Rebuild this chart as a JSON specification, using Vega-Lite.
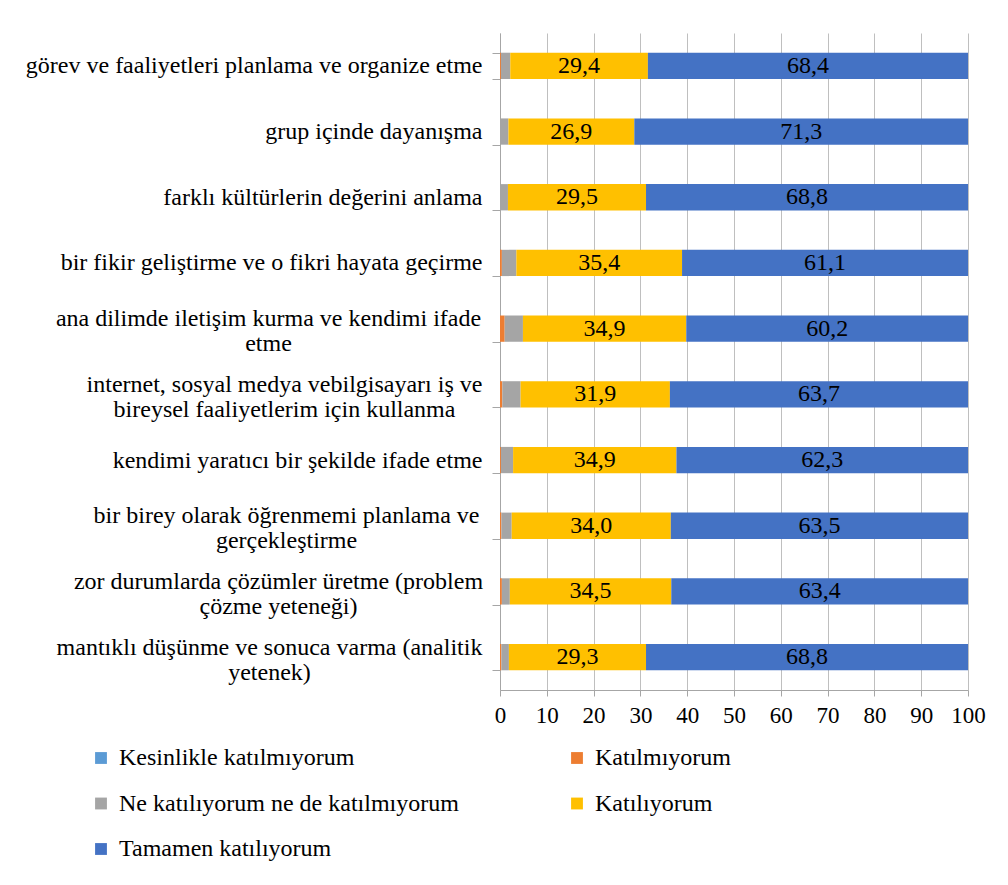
{
  "$schema": "https://vega.github.io/schema/vega-lite/v6.json",
  "width": 468,
  "height": 657,
  "autosize": "none",
  "padding": {"left": 500, "top": 33, "right": 40, "bottom": 195},
  "background": "white",
  "config": {
    "font": "Liberation Serif",
    "view": {"stroke": null},
    "locale": {"number": {"decimal": ",", "thousands": ".", "grouping": [3], "currency": ["", ""]}}
  },
  "data": {
    "values": [
      {"item": "görev ve faaliyetleri planlama ve organize etme", "response": "Kesinlikle katılmıyorum", "level": 1, "value": 0.0},
      {"item": "görev ve faaliyetleri planlama ve organize etme", "response": "Katılmıyorum", "level": 2, "value": 0.2},
      {"item": "görev ve faaliyetleri planlama ve organize etme", "response": "Ne katılıyorum ne de katılmıyorum", "level": 3, "value": 2.0},
      {"item": "görev ve faaliyetleri planlama ve organize etme", "response": "Katılıyorum", "level": 4, "value": 29.4},
      {"item": "görev ve faaliyetleri planlama ve organize etme", "response": "Tamamen katılıyorum", "level": 5, "value": 68.4},
      {"item": "grup içinde dayanışma", "response": "Kesinlikle katılmıyorum", "level": 1, "value": 0.0},
      {"item": "grup içinde dayanışma", "response": "Katılmıyorum", "level": 2, "value": 0.0},
      {"item": "grup içinde dayanışma", "response": "Ne katılıyorum ne de katılmıyorum", "level": 3, "value": 1.8},
      {"item": "grup içinde dayanışma", "response": "Katılıyorum", "level": 4, "value": 26.9},
      {"item": "grup içinde dayanışma", "response": "Tamamen katılıyorum", "level": 5, "value": 71.3},
      {"item": "farklı kültürlerin değerini anlama", "response": "Kesinlikle katılmıyorum", "level": 1, "value": 0.0},
      {"item": "farklı kültürlerin değerini anlama", "response": "Katılmıyorum", "level": 2, "value": 0.0},
      {"item": "farklı kültürlerin değerini anlama", "response": "Ne katılıyorum ne de katılmıyorum", "level": 3, "value": 1.7},
      {"item": "farklı kültürlerin değerini anlama", "response": "Katılıyorum", "level": 4, "value": 29.5},
      {"item": "farklı kültürlerin değerini anlama", "response": "Tamamen katılıyorum", "level": 5, "value": 68.8},
      {"item": "bir fikir geliştirme ve o fikri hayata geçirme", "response": "Kesinlikle katılmıyorum", "level": 1, "value": 0.0},
      {"item": "bir fikir geliştirme ve o fikri hayata geçirme", "response": "Katılmıyorum", "level": 2, "value": 0.4},
      {"item": "bir fikir geliştirme ve o fikri hayata geçirme", "response": "Ne katılıyorum ne de katılmıyorum", "level": 3, "value": 3.1},
      {"item": "bir fikir geliştirme ve o fikri hayata geçirme", "response": "Katılıyorum", "level": 4, "value": 35.4},
      {"item": "bir fikir geliştirme ve o fikri hayata geçirme", "response": "Tamamen katılıyorum", "level": 5, "value": 61.1},
      {"item": "ana dilimde iletişim kurma ve kendimi ifade etme", "response": "Kesinlikle katılmıyorum", "level": 1, "value": 0.0},
      {"item": "ana dilimde iletişim kurma ve kendimi ifade etme", "response": "Katılmıyorum", "level": 2, "value": 1.0},
      {"item": "ana dilimde iletişim kurma ve kendimi ifade etme", "response": "Ne katılıyorum ne de katılmıyorum", "level": 3, "value": 3.9},
      {"item": "ana dilimde iletişim kurma ve kendimi ifade etme", "response": "Katılıyorum", "level": 4, "value": 34.9},
      {"item": "ana dilimde iletişim kurma ve kendimi ifade etme", "response": "Tamamen katılıyorum", "level": 5, "value": 60.2},
      {"item": "internet, sosyal medya vebilgisayarı iş ve bireysel faaliyetlerim için kullanma", "response": "Kesinlikle katılmıyorum", "level": 1, "value": 0.0},
      {"item": "internet, sosyal medya vebilgisayarı iş ve bireysel faaliyetlerim için kullanma", "response": "Katılmıyorum", "level": 2, "value": 0.5},
      {"item": "internet, sosyal medya vebilgisayarı iş ve bireysel faaliyetlerim için kullanma", "response": "Ne katılıyorum ne de katılmıyorum", "level": 3, "value": 3.9},
      {"item": "internet, sosyal medya vebilgisayarı iş ve bireysel faaliyetlerim için kullanma", "response": "Katılıyorum", "level": 4, "value": 31.9},
      {"item": "internet, sosyal medya vebilgisayarı iş ve bireysel faaliyetlerim için kullanma", "response": "Tamamen katılıyorum", "level": 5, "value": 63.7},
      {"item": "kendimi yaratıcı bir şekilde ifade etme", "response": "Kesinlikle katılmıyorum", "level": 1, "value": 0.0},
      {"item": "kendimi yaratıcı bir şekilde ifade etme", "response": "Katılmıyorum", "level": 2, "value": 0.2},
      {"item": "kendimi yaratıcı bir şekilde ifade etme", "response": "Ne katılıyorum ne de katılmıyorum", "level": 3, "value": 2.6},
      {"item": "kendimi yaratıcı bir şekilde ifade etme", "response": "Katılıyorum", "level": 4, "value": 34.9},
      {"item": "kendimi yaratıcı bir şekilde ifade etme", "response": "Tamamen katılıyorum", "level": 5, "value": 62.3},
      {"item": "bir birey olarak öğrenmemi planlama ve gerçekleştirme", "response": "Kesinlikle katılmıyorum", "level": 1, "value": 0.0},
      {"item": "bir birey olarak öğrenmemi planlama ve gerçekleştirme", "response": "Katılmıyorum", "level": 2, "value": 0.3},
      {"item": "bir birey olarak öğrenmemi planlama ve gerçekleştirme", "response": "Ne katılıyorum ne de katılmıyorum", "level": 3, "value": 2.2},
      {"item": "bir birey olarak öğrenmemi planlama ve gerçekleştirme", "response": "Katılıyorum", "level": 4, "value": 34.0},
      {"item": "bir birey olarak öğrenmemi planlama ve gerçekleştirme", "response": "Tamamen katılıyorum", "level": 5, "value": 63.5},
      {"item": "zor durumlarda çözümler üretme (problem çözme yeteneği)", "response": "Kesinlikle katılmıyorum", "level": 1, "value": 0.0},
      {"item": "zor durumlarda çözümler üretme (problem çözme yeteneği)", "response": "Katılmıyorum", "level": 2, "value": 0.4},
      {"item": "zor durumlarda çözümler üretme (problem çözme yeteneği)", "response": "Ne katılıyorum ne de katılmıyorum", "level": 3, "value": 1.7},
      {"item": "zor durumlarda çözümler üretme (problem çözme yeteneği)", "response": "Katılıyorum", "level": 4, "value": 34.5},
      {"item": "zor durumlarda çözümler üretme (problem çözme yeteneği)", "response": "Tamamen katılıyorum", "level": 5, "value": 63.4},
      {"item": "mantıklı düşünme ve sonuca varma (analitik yetenek)", "response": "Kesinlikle katılmıyorum", "level": 1, "value": 0.0},
      {"item": "mantıklı düşünme ve sonuca varma (analitik yetenek)", "response": "Katılmıyorum", "level": 2, "value": 0.3},
      {"item": "mantıklı düşünme ve sonuca varma (analitik yetenek)", "response": "Ne katılıyorum ne de katılmıyorum", "level": 3, "value": 1.6},
      {"item": "mantıklı düşünme ve sonuca varma (analitik yetenek)", "response": "Katılıyorum", "level": 4, "value": 29.3},
      {"item": "mantıklı düşünme ve sonuca varma (analitik yetenek)", "response": "Tamamen katılıyorum", "level": 5, "value": 68.8}
    ]
  },
  "transform": [
    {"stack": "value", "groupby": ["item"], "sort": [{"field": "level", "order": "ascending"}], "as": ["x0", "x1"]}
  ],
  "encoding": {
    "y": {
      "field": "item",
      "type": "nominal",
      "sort": null,
      "title": null,
      "scale": {"paddingInner": 0.6, "paddingOuter": 0.3},
      "axis": {
        "domainColor": "#a6a6a6",
        "tickColor": "#a6a6a6",
        "tickSize": 8,
        "tickBand": "extent",
        "labelFont": "Liberation Serif",
        "labelFontSize": 24,
        "labelColor": "#000000",
        "labelLimit": 0,
        "labelLineHeight": 25,
        "labelAlign": {
          "condition": {"test": "indexof(['ana dilimde iletişim kurma ve kendimi ifade etme', 'internet, sosyal medya vebilgisayarı iş ve bireysel faaliyetlerim için kullanma', 'bir birey olarak öğrenmemi planlama ve gerçekleştirme', 'zor durumlarda çözümler üretme (problem çözme yeteneği)', 'mantıklı düşünme ve sonuca varma (analitik yetenek)'], datum.value) >= 0", "value": "center"},
          "value": "right"
        },
        "labelOffset": {
          "condition": {"test": "indexof(['ana dilimde iletişim kurma ve kendimi ifade etme', 'internet, sosyal medya vebilgisayarı iş ve bireysel faaliyetlerim için kullanma', 'bir birey olarak öğrenmemi planlama ve gerçekleştirme', 'zor durumlarda çözümler üretme (problem çözme yeteneği)', 'mantıklı düşünme ve sonuca varma (analitik yetenek)'], datum.value) >= 0", "value": -10},
          "value": 0
        },
        "labelPadding": {
          "condition": [
            {"test": "datum.value == 'ana dilimde iletişim kurma ve kendimi ifade etme'", "value": 224},
            {"test": "datum.value == 'internet, sosyal medya vebilgisayarı iş ve bireysel faaliyetlerim için kullanma'", "value": 208},
            {"test": "datum.value == 'bir birey olarak öğrenmemi planlama ve gerçekleştirme'", "value": 206},
            {"test": "datum.value == 'zor durumlarda çözümler üretme (problem çözme yeteneği)'", "value": 214},
            {"test": "datum.value == 'mantıklı düşünme ve sonuca varma (analitik yetenek)'", "value": 223}
          ],
          "value": 10
        },
        "labelExpr": "datum.value == 'ana dilimde iletişim kurma ve kendimi ifade etme' ? ['ana dilimde iletişim kurma ve kendimi ifade', 'etme'] : datum.value == 'internet, sosyal medya vebilgisayarı iş ve bireysel faaliyetlerim için kullanma' ? ['internet, sosyal medya vebilgisayarı iş ve', 'bireysel faaliyetlerim için kullanma'] : datum.value == 'bir birey olarak öğrenmemi planlama ve gerçekleştirme' ? ['bir birey olarak öğrenmemi planlama ve', 'gerçekleştirme'] : datum.value == 'zor durumlarda çözümler üretme (problem çözme yeteneği)' ? ['zor durumlarda çözümler üretme (problem', 'çözme yeteneği)'] : datum.value == 'mantıklı düşünme ve sonuca varma (analitik yetenek)' ? ['mantıklı düşünme ve sonuca varma (analitik', 'yetenek)'] : datum.label"
      }
    }
  },
  "layer": [
    {
      "mark": {"type": "bar"},
      "encoding": {
        "x": {
          "field": "x0",
          "type": "quantitative",
          "title": null,
          "scale": {"domain": [0, 100], "nice": false},
          "axis": {
            "values": [0, 10, 20, 30, 40, 50, 60, 70, 80, 90, 100],
            "domainColor": "#a6a6a6",
            "tickColor": "#a6a6a6",
            "tickSize": 6,
            "grid": true,
            "gridColor": "#bfbfbf",
            "labelFont": "Liberation Serif",
            "labelFontSize": 23,
            "labelColor": "#000000",
            "labelPadding": 8,
            "labelFlush": false
          }
        },
        "x2": {"field": "x1"},
        "color": {
          "field": "response",
          "type": "nominal",
          "scale": {
            "domain": ["Kesinlikle katılmıyorum", "Katılmıyorum", "Ne katılıyorum ne de katılmıyorum", "Katılıyorum", "Tamamen katılıyorum"],
            "range": ["#5B9BD5", "#ED7D31", "#A5A5A5", "#FFC000", "#4472C4"]
          },
          "legend": {
            "title": null,
            "orient": "none",
            "legendX": -411,
            "legendY": 713,
            "direction": "horizontal",
            "columns": 2,
            "columnPadding": 106,
            "rowPadding": 21.5,
            "symbolType": "square",
            "symbolSize": 140,
            "symbolStrokeWidth": 0,
            "labelFont": "Liberation Serif",
            "labelFontSize": 24,
            "labelColor": "#000000",
            "labelOffset": 6,
            "labelLimit": 0
          }
        }
      }
    },
    {
      "transform": [
        {"filter": "datum.level >= 4"},
        {"fold": ["x0", "x1"], "as": ["edge", "pos"]},
        {"aggregate": [{"op": "mean", "field": "pos", "as": "mid"}, {"op": "max", "field": "value", "as": "v"}], "groupby": ["item", "response"]}
      ],
      "mark": {"type": "text", "font": "Liberation Serif", "fontSize": 24, "color": "#000000", "baseline": "middle", "align": "center"},
      "encoding": {
        "x": {"field": "mid", "type": "quantitative"},
        "text": {"field": "v", "type": "quantitative", "format": ".1f"}
      }
    }
  ]
}
